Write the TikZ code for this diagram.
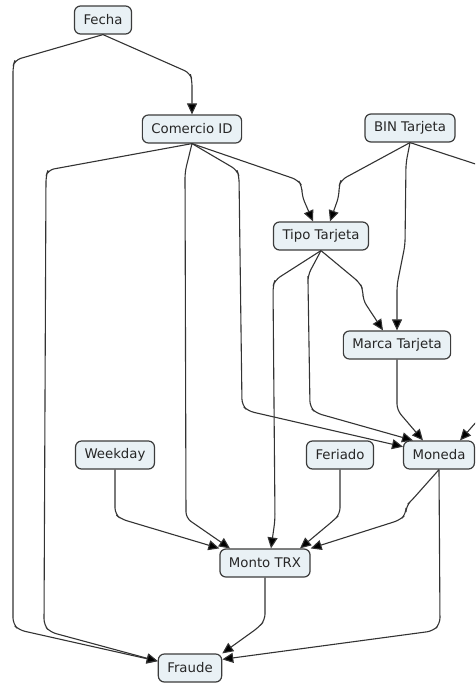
\documentclass[tikz,border=0pt]{standalone}
\usepackage{fontspec}
\setmainfont{DejaVu Sans}
\usetikzlibrary{arrows.meta,calc}
\definecolor{boxfill}{HTML}{E9F1F5}
\definecolor{boxline}{HTML}{3C3C3C}
\definecolor{edgeline}{HTML}{333333}
\begin{document}
\begin{tikzpicture}[x=1pt,y=-1pt,
  concept/.style={draw=boxline,fill=boxfill,line width=1.2pt,rounded corners=6pt,
    inner xsep=9pt,inner ysep=0pt,minimum height=28pt,
    font=\fontsize{13.3}{15}\selectfont,text=black!85},
  link/.style={draw=edgeline,line width=1.1pt,rounded corners=6pt,
    -{Triangle[length=11pt,width=10pt,fill=black]}}]
\useasboundingbox (0,0) rectangle (475,683);
\clip (0,0) rectangle (475,683);
% nodes
\node[concept] (fecha) at (103,20) {Fecha};
\node[concept] (comercio) at (192,129) {Comercio ID};
\node[concept] (bin) at (410,128) {BIN Tarjeta};
\node[concept] (tipo) at (321,236) {Tipo Tarjeta};
\node[concept] (marca) at (397,345) {Marca Tarjeta};
\node[concept] (weekday) at (115,455) {Weekday};
\node[concept] (feriado) at (340,455) {Feriado};
\node[concept] (moneda) at (439,455) {Moneda};
\node[concept] (monto) at (265,563) {Monto TRX};
\node[concept] (fraude) at (190,668) {Fraude};
% edges
\draw[link] (fecha.south) -- (190,73) -- (192,80) -- (comercio.north);
\draw[link] (fecha.south) -- (15,60) -- (13,66) -- (13,624) -- (19,630) -- (fraude.168);
\draw[link] (comercio.south) -- (48,170) -- (46,176) -- (44,625) -- (50,632) -- (fraude.168);
\draw[link] (comercio.south) -- (185,172) -- (186,518) -- ($(monto.north)+(-35,0)$);
\draw[link] (comercio.south) -- (237,170) -- (239,176) -- (242,405) -- (248,411) -- (moneda.167);
\draw[link] (comercio.south) -- (298,180) -- (302,186) -- (302,196) -- ($(tipo.north)+(-8,0)$);
\draw[link] (bin.south) -- (341,180) -- (339,186) -- (339,196) -- ($(tipo.north)+(9,0)$);
\draw[link] (bin.south) -- (406,163) -- (405,245) -- (397,285) -- (marca.north);
\draw[link] (bin.south) -- (500,172) -- (500,395) -- ($(moneda.north)+(21,0)$);
\draw[link] (tipo.south) -- (275,280) -- (273,286) -- (275,520) -- ($(monto.north)+(6,0)$);
\draw[link] (tipo.south) -- (308,275) -- (308,282) -- (310,407) -- (316,413) -- ($(moneda.north)+(-26,0)$);
\draw[link] (tipo.south) -- (360,283) -- (363,290) -- (363,300) -- ($(marca.north)+(-14,0)$);
\draw[link] (marca.south) -- (397,410) -- ($(moneda.north)+(-16,0)$);
\draw[link] (weekday.south) -- (115,514) -- (121,519) -- (monto.north west);
\draw[link] (feriado.south) -- (340,514) -- (334,520) -- ($(monto.north)+(35,0)$);
\draw[link] (moneda.south) -- (412,500) -- (406,506) -- (406,514) -- (400,520) -- (monto.north east);
\draw[link] (moneda.south) -- (440,624) -- (433,631) -- (fraude.15);
\draw[link] (monto.south) -- (265,620) -- (259,627) -- (fraude.north east);
\end{tikzpicture}
\end{document}
